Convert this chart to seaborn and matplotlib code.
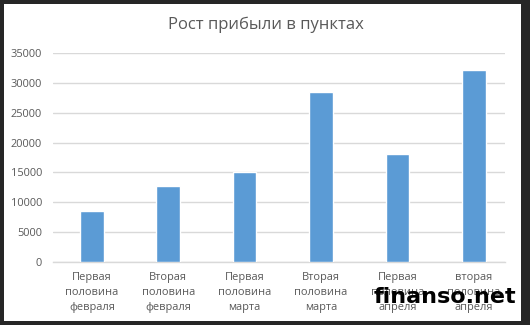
import matplotlib
matplotlib.use("Agg")
import matplotlib.pyplot as plt
import seaborn as sns
import pandas as pd
from matplotlib.patches import Rectangle

categories = ["Первая\nполовина\nфевраля", "Вторая\nполовина\nфевраля",
              "Первая\nполовина\nмарта", "Вторая\nполовина\nмарта",
              "Первая\nполовина\nапреля", "вторая\nполовина\nапреля"]
values = [8600, 12800, 15000, 28500, 18100, 32200]
yticks = [0, 5000, 10000, 15000, 20000, 25000, 30000, 35000]
title = "Рост прибыли в пунктах"
watermark = "finanso.net"

sns.set_theme(style="white")
plt.rcParams["font.family"] = ["Open Sans", "DejaVu Sans"]

fig = plt.figure(figsize=(5.3, 3.25), dpi=100, facecolor="#262626")
fig.patches.append(Rectangle((4/530, 4/325), 517/530, 317/325, transform=fig.transFigure,
                             facecolor="white", edgecolor="none", zorder=-5))
ax = fig.add_axes([53/530, 1-262/325, 452/530, 209/325])
ax.set_facecolor("none")

df = pd.DataFrame({"cat": categories, "val": values})
sns.barplot(data=df, x="cat", y="val", color="#5B9BD5", width=0.31, saturation=1, ax=ax, zorder=3)

ax.set_ylim(0, 35000)
ax.set_xlim(-0.51, 5.41)
ax.set_yticks(yticks)
ax.set_yticklabels([str(v) for v in yticks])
ax.yaxis.grid(True, color="#D9D9D9", linewidth=1)
ax.set_axisbelow(True)
for s in ["top", "right", "left"]:
    ax.spines[s].set_visible(False)
ax.spines["bottom"].set_color("#D9D9D9")
ax.spines["bottom"].set_linewidth(1)
ax.set_xlabel("")
ax.set_ylabel("")
ax.tick_params(axis="both", length=0, labelsize=7.9, labelcolor="#595959")
ax.tick_params(axis="y", pad=8)
ax.tick_params(axis="x", pad=7.5)
for lab in ax.get_xticklabels():
    lab.set_linespacing(1.5)

fig.text(266/530, 1-25/325, title, ha="center", va="center", fontsize=12, color="#595959")
fig.text(445/530, 1-297/325, watermark, ha="center", va="center", fontsize=16,
         fontweight="bold", color="black", family=["DejaVu Sans"], zorder=10)

fig.savefig("out.png", dpi=100, facecolor=fig.get_facecolor())
